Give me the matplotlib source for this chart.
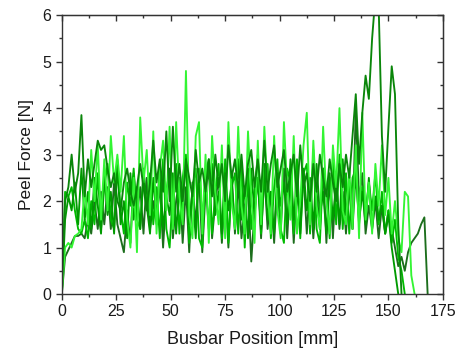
import numpy as np
import matplotlib
matplotlib.use('Agg')
import matplotlib.pyplot as plt

plt.rcParams['font.family'] = ['Liberation Sans', 'DejaVu Sans']

# peel force traces [N], sampled every 1.5 mm of busbar position
step_mm = 1.5

force_a = [0.0, 1.0, 1.1, 1.0, 1.25, 1.3, 1.4, 2.3, 1.5, 3.1, 2.0, 3.2, 1.6, 2.9, 1.8, 3.4, 2.4, 3.0, 2.2, 3.4,
           1.6, 1.0, 2.5, 0.9, 3.8, 2.4, 3.1, 1.7, 3.5, 1.3, 2.7, 3.3, 1.8, 3.6, 1.4, 3.7, 2.1, 1.5, 4.8, 1.7,
           1.2, 3.4, 3.7, 1.3, 3.0, 1.1, 3.4, 2.2, 1.5, 3.2, 1.2, 3.7, 2.0, 1.4, 3.6, 1.9, 1.3, 3.5, 2.1, 1.1,
           3.3, 1.5, 3.6, 2.2, 1.3, 3.4, 1.8, 1.2, 3.7, 2.3, 1.6, 3.4, 1.3, 2.0, 3.2, 3.9, 1.5, 3.3, 1.9, 1.4,
           3.6, 2.0, 1.3, 3.2, 2.3, 4.0, 1.8, 1.5, 2.7, 1.4, 3.2, 1.2, 3.9, 1.6, 2.4, 1.3, 2.8, 1.9, 3.2, 1.7,
           2.5, 1.3, 2.0, 1.2, 0.9, 2.2, 2.1, 0.4, 0.0]

force_b = [0.0, 2.2, 2.1, 2.3, 1.8, 1.4, 1.3, 1.6, 1.2, 2.0, 1.5, 2.6, 1.4, 2.3, 2.8, 1.6, 1.4, 2.9, 1.8, 1.3,
           2.4, 1.9, 2.7, 1.6, 1.4, 2.5, 1.8, 2.6, 1.5, 2.3, 1.2, 2.9, 1.4, 1.0, 2.2, 2.8, 1.3, 2.5, 3.0, 1.1,
           2.3, 2.7, 1.2, 1.0, 2.6, 2.9, 1.3, 2.2, 2.8, 1.2, 2.9, 1.1, 2.3, 2.6, 1.3, 2.8, 1.0, 2.7, 1.4, 2.2,
           3.0, 1.3, 2.5, 2.8, 1.2, 2.3, 2.9, 1.4, 1.1, 2.7, 2.4, 1.3, 2.9, 1.2, 2.6, 2.8, 1.3, 3.1, 1.4, 1.1,
           2.7, 2.3, 1.2, 2.9, 1.5, 3.0, 1.4, 2.6, 1.3, 2.5, 2.7, 1.5, 2.3, 1.7, 2.4, 1.8, 2.6, 1.5, 2.2, 1.3,
           1.8, 1.1, 1.6, 0.8, 0.5, 0.0]

force_c = [0.0, 2.0, 2.3, 3.0, 2.2, 2.6, 3.85, 2.1, 2.9, 2.3, 2.8, 3.3, 3.1, 3.2, 2.7, 2.3, 2.6, 2.0, 1.8, 2.4,
           2.7, 2.2, 1.9, 2.3, 2.8, 2.3, 1.8, 2.4, 3.3, 2.4, 2.9, 2.2, 3.5, 2.0, 3.6, 2.2, 2.8, 2.0, 2.9, 2.5,
           2.1, 3.1, 2.4, 2.7, 2.2, 2.9, 2.1, 3.0, 2.3, 2.8, 2.0, 3.2, 2.5, 2.9, 2.2, 3.0, 2.1, 2.8, 3.1, 2.3,
           2.9, 2.2, 3.3, 2.2, 2.8, 3.2, 2.3, 2.7, 3.1, 2.2, 2.6, 3.0, 2.1, 3.2, 2.3, 2.6, 2.0, 2.8, 2.2, 3.0,
           2.5, 2.1, 2.9, 2.4, 2.0, 2.8, 2.3, 3.0, 2.5, 3.4, 4.3, 2.8, 3.9, 4.7, 4.2, 5.5, 6.4, 6.2, 3.4, 2.2,
           3.6, 4.9, 4.3, 1.5, 0.0]

force_d = [0.0, 0.8, 0.95, 1.1, 1.25, 1.25, 1.3, 1.2, 1.6, 1.3, 2.0, 1.4, 2.2, 1.5, 2.3, 1.4, 2.4, 1.5, 1.2, 0.9,
           1.8, 1.1, 2.6, 1.7, 2.3, 1.3, 2.5, 1.4, 2.0, 1.5, 2.4, 1.0, 2.2, 2.7, 1.2, 2.0, 2.5, 1.1, 2.3, 0.9,
           2.4, 1.5, 2.6, 0.9, 2.2, 2.7, 1.2, 2.0, 2.5, 1.1, 2.3, 1.0, 2.6, 1.3, 2.4, 1.2, 1.9, 2.3, 0.7, 1.8,
           2.5, 1.2, 2.6, 1.4, 2.2, 1.1, 2.4, 1.3, 2.7, 1.2, 2.5, 1.1, 2.3, 1.6, 2.6, 1.3, 2.4, 1.2, 2.2, 1.4,
           2.7, 1.1, 2.5, 1.2, 2.6, 1.4, 2.2, 1.3, 2.4, 1.4, 4.0, 2.0, 2.6, 1.3, 1.9, 1.4, 2.0, 1.2, 1.9, 1.3,
           1.8, 1.4, 1.0, 0.6, 0.8, 0.5, 0.9, 1.1, 1.2, 1.3, 1.5, 1.65, 0.0]

force_e = [0.0, 1.6, 2.1, 1.8, 2.4, 1.5, 2.7, 1.6, 2.2, 1.4, 2.5, 1.9, 1.3, 2.6, 1.7, 2.2, 1.3, 2.8, 1.5, 2.0,
           1.2, 2.6, 1.6, 2.3, 1.4, 2.7, 1.9, 1.3, 2.5, 1.6, 2.8, 1.4, 2.1, 1.7, 2.6, 1.3, 2.4, 1.8, 2.9, 1.5,
           2.2, 1.2, 2.7, 1.6, 2.4, 1.4, 2.8, 1.7, 2.2, 1.3, 2.6, 1.8, 2.4, 1.4, 2.9, 1.6, 2.3, 1.2, 2.7, 1.7,
           2.5, 1.4, 2.8, 1.6, 2.2, 1.3, 2.6, 1.9, 2.4, 1.5, 2.9, 1.6, 2.3, 1.3, 2.7, 1.8, 2.5, 1.4, 2.8, 1.7,
           2.2, 1.3, 2.6, 1.6, 2.4, 1.5, 2.9, 1.7, 2.3, 1.4, 2.6, 1.6, 2.2, 1.5, 2.5, 1.4, 2.1, 1.6, 1.9, 1.3,
           1.7, 1.0, 0.5, 0.0]

traces = [force_d, force_b, force_e, force_a, force_c]
colors = ['#1c6e1c', '#00bb00', '#009a00', '#33f533', '#0a860a']

fig = plt.figure(figsize=(4.58, 3.53), dpi=100)
ax = fig.add_axes([0.135, 0.167, 0.832, 0.79])

for y, c in zip(traces, colors):
    x = np.arange(len(y)) * step_mm
    ax.plot(x, y, color=c, lw=1.35)

ax.set_xlim(0, 175)
ax.set_ylim(0, 6)
ax.set_xticks(np.arange(0, 176, 25))
ax.set_xticks(np.arange(12.5, 175, 25), minor=True)
ax.set_yticks(np.arange(0, 7, 1))
ax.set_yticks(np.arange(0.5, 6, 1), minor=True)

for s in ax.spines.values():
    s.set_color('#333333')
    s.set_linewidth(1.0)

ax.tick_params(which='both', direction='out', colors='#333333', labelsize=11.5,
               top=False, right=False, labelcolor='#1a1a1a')
ax.tick_params(which='major', length=4, width=1)
ax.tick_params(which='minor', length=2.5, width=1)

# top and right axes: ticks pointing inwards, no labels
top = ax.secondary_xaxis('top')
top.set_xticks(np.arange(0, 176, 25))
top.set_xticks(np.arange(12.5, 175, 25), minor=True)
top.tick_params(which='both', direction='in', labeltop=False, colors='#333333')
top.tick_params(which='major', length=4, width=1)
top.tick_params(which='minor', length=2.5, width=1)
right = ax.secondary_yaxis('right')
right.set_yticks(np.arange(0, 7, 1))
right.set_yticks(np.arange(0.5, 6, 1), minor=True)
right.tick_params(which='both', direction='in', labelright=False, colors='#333333')
right.tick_params(which='major', length=4, width=1)
right.tick_params(which='minor', length=2.5, width=1)

ax.set_xlabel('Busbar Position [mm]', fontsize=13, labelpad=8, color='#1a1a1a')
ax.set_ylabel('Peel Force [N]', fontsize=12.5, labelpad=6, color='#1a1a1a')

fig.savefig('out.png', dpi=100)
